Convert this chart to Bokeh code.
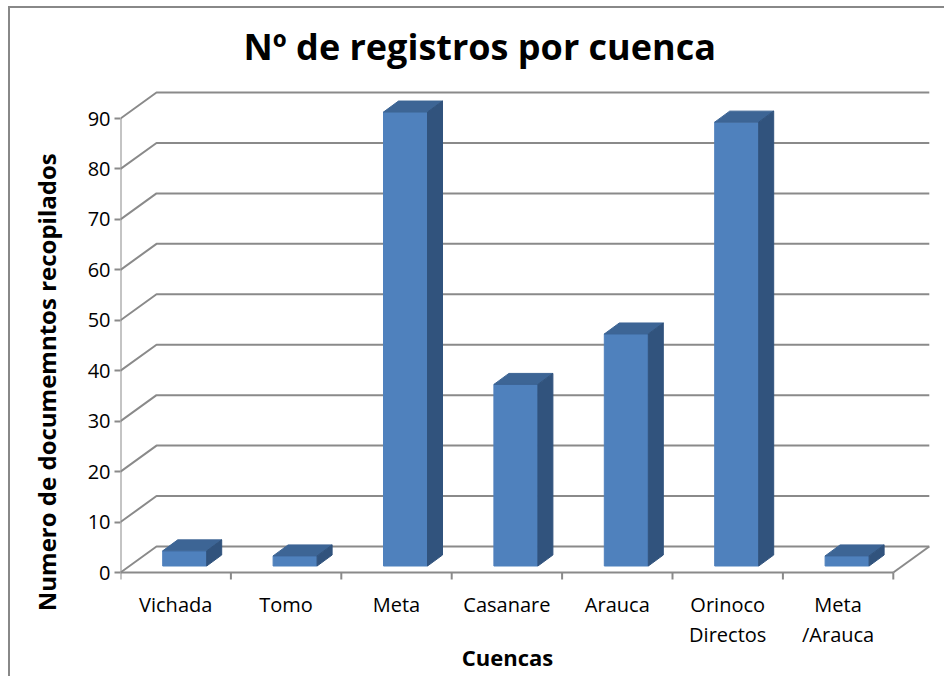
from bokeh.plotting import figure
from bokeh.models import FixedTicker, Range1d
from bokeh.core.properties import value
from bokeh.embed import file_html
from bokeh.resources import INLINE

# ---- data ----
categories = ["Vichada", "Tomo", "Meta", "Casanare", "Arauca", "Orinoco\nDirectos", "Meta\n/Arauca"]
values = [3, 2, 90, 36, 46, 88, 2]
y_ticks = [0, 10, 20, 30, 40, 50, 60, 70, 80, 90]
title_text = "Nº de registros por cuenca"
y_title = "Numero de  documemntos  recopilados"
x_title = "Cuencas"

# ---- style constants (pixel geometry of the 3-D look) ----
PX_X = 110.4          # px per category
PX_Y = 5.044          # px per value unit
WALL_DX = 36 / PX_X
WALL_DY = 26 / PX_Y
BAR_W = 44 / PX_X
BAR_OFF_X = 9 / PX_X
BAR_OFF_Y = 6.5 / PX_Y
BAR_DX = 15 / PX_X
BAR_DY = 11 / PX_Y
GRID = "#8a8a8a"
FRONT = "#4f81bd"
TOP = "#3d6595"
SIDE = "#31537d"
FONT = "Open Sans"

n = len(categories)
ymax = y_ticks[-1]

p = figure(width=936, height=670, output_backend="svg", toolbar_location=None,
           x_range=Range1d(0, 826 / PX_X),
           y_range=Range1d((572 - 678) / PX_Y, (572 - 73) / PX_Y),
           x_axis_location=None,
           min_border_left=110, min_border_right=0, min_border_top=65, min_border_bottom=0,
           background_fill_color="white", border_fill_color="white",
           styles={"margin-left": "8px", "margin-top": "6px",
                   "border-top": "2px solid #888888", "border-left": "2px solid #888888"})
p.outline_line_color = None
p.xgrid.visible = False
p.ygrid.visible = False

# title
p.title.text = title_text
p.title.text_font = FONT
p.title.text_font_style = "bold"
p.title.text_font_size = "36px"
p.title.text_color = "black"
p.title.align = "left"
p.title.offset = 123
p.title.standoff = 5

# y axis (ticks, labels, title)
p.yaxis.ticker = FixedTicker(ticks=y_ticks)
p.yaxis.axis_line_color = None
p.yaxis.major_tick_out = 6
p.yaxis.major_tick_in = 0
p.yaxis.major_tick_line_color = GRID
p.yaxis.major_tick_line_width = 2
p.yaxis.minor_tick_line_color = None
p.yaxis.major_label_standoff = 4
p.yaxis.major_label_text_font = FONT
p.yaxis.major_label_text_font_size = "20px"
p.yaxis.major_label_text_color = "black"
p.yaxis.axis_label = y_title
p.yaxis.axis_label_text_font = FONT
p.yaxis.axis_label_text_font_style = "bold"
p.yaxis.axis_label_text_font_size = "24px"
p.yaxis.axis_label_text_color = "black"
p.yaxis.axis_label_standoff = 22

# back-wall gridlines with left-wall diagonals
gx = [[0, WALL_DX, n + WALL_DX] for v in y_ticks]
gy = [[v, v + WALL_DY, v + WALL_DY] for v in y_ticks]
p.multi_line(gx, gy, line_color=GRID, line_width=2)
# front floor edge, right floor edge, vertical axis
p.multi_line([[0, n], [n, n + WALL_DX], [0, 0]],
             [[0, 0], [0, WALL_DY], [0, ymax]], line_color=GRID, line_width=2)
# category boundary ticks
p.segment(x0=list(range(n + 1)), y0=[0] * (n + 1), x1=list(range(n + 1)),
          y1=[-7 / PX_Y] * (n + 1), line_color=GRID, line_width=2)

# bars
cx = [i + 0.5 + BAR_OFF_X for i in range(n)]
tops = [BAR_OFF_Y + v for v in values]
p.vbar(x=cx, bottom=BAR_OFF_Y, top=tops, width=BAR_W, fill_color=FRONT, line_color=FRONT)
top_xs = [[c - BAR_W / 2, c + BAR_W / 2, c + BAR_W / 2 + BAR_DX, c - BAR_W / 2 + BAR_DX] for c in cx]
top_ys = [[t, t, t + BAR_DY, t + BAR_DY] for t in tops]
p.patches(top_xs, top_ys, fill_color=TOP, line_color=TOP)
side_xs = [[c + BAR_W / 2, c + BAR_W / 2 + BAR_DX, c + BAR_W / 2 + BAR_DX, c + BAR_W / 2] for c in cx]
side_ys = [[BAR_OFF_Y, BAR_OFF_Y + BAR_DY, t + BAR_DY, t] for t in tops]
p.patches(side_xs, side_ys, fill_color=SIDE, line_color=SIDE)

# category labels
p.text(x=[i + 0.5 for i in range(n)], y=[(572 - 590) / PX_Y] * n, text=categories,
       text_font=value(FONT), text_font_size="20px", text_color="black",
       text_align="center", text_baseline="top", text_line_height=1.12)

# x axis title
p.text(x=[(507 - 120) / PX_X], y=[(572 - 656) / PX_Y], text=[x_title],
       text_font=value(FONT), text_font_style="bold", text_font_size="22px",
       text_align="center", text_baseline="middle", text_color="black")

open("out.html", "w").write(file_html(p, INLINE))
